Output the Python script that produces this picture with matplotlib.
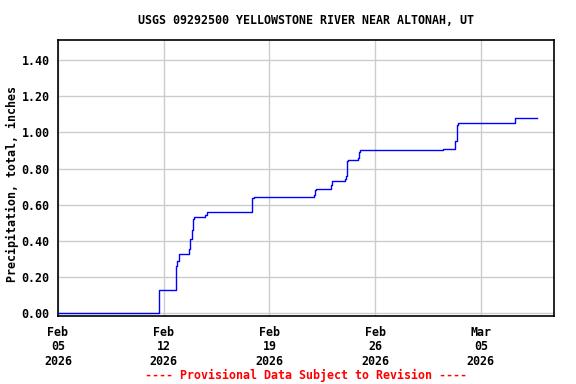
import matplotlib
matplotlib.use("Agg")
import matplotlib.pyplot as plt
import numpy as np
from datetime import datetime, timedelta
import matplotlib.dates as mdates

plt.rcParams['font.family'] = ['DejaVu Sans Mono']
plt.rcParams['font.weight'] = 'bold'

title = "USGS 09292500 YELLOWSTONE RIVER NEAR ALTONAH, UT"
ylabel = "Precipitation, total, inches"
footer = "---- Provisional Data Subject to Revision ----"

start = datetime(2026, 2, 5)
# days since Feb 05 2026 00:00 and cumulative precipitation (inches)
step_days = [0.0, 6.71, 7.81, 7.90, 7.99, 8.70, 8.76, 8.85, 8.92, 8.99,
             9.75, 9.85, 12.87, 13.00, 16.97, 17.04, 17.10, 18.10, 18.17,
             18.99, 19.05, 19.12, 19.16, 19.22, 19.89, 19.95, 20.02, 25.52,
             26.31, 26.40, 26.49, 30.28, 31.74]
step_values = [0.00, 0.13, 0.26, 0.29, 0.33, 0.355, 0.41, 0.46, 0.52, 0.53,
               0.545, 0.56, 0.64, 0.645, 0.655, 0.68, 0.69, 0.71, 0.73,
               0.74, 0.76, 0.78, 0.84, 0.85, 0.86, 0.89, 0.90, 0.91,
               0.95, 1.04, 1.05, 1.08, 1.08]

tick_dates = [datetime(2026, 2, 5), datetime(2026, 2, 12), datetime(2026, 2, 19),
              datetime(2026, 2, 26), datetime(2026, 3, 5)]
tick_labels = ["Feb\n05\n2026", "Feb\n12\n2026", "Feb\n19\n2026", "Feb\n26\n2026", "Mar\n05\n2026"]
y_ticks = [0.0, 0.2, 0.4, 0.6, 0.8, 1.0, 1.2, 1.4]
y_tick_labels = ["0.00", "0.20", "0.40", "0.60", "0.80", "1.00", "1.20", "1.40"]

fig = plt.figure(figsize=(5.76, 3.84), dpi=100)
ax = fig.add_axes([58/576, 1-316/384, (554-58)/576, (316-40)/384])

times = [start + timedelta(days=d) for d in step_days]
ax.plot(times, step_values, drawstyle='steps-post', color='#0000ff', lw=1.0, zorder=3)

ax.set_xlim(start, start + timedelta(days=32.85))
ax.set_ylim(-0.014, 1.51)
ax.set_xticks(tick_dates)
ax.set_xticklabels(tick_labels, fontsize=8.4, fontweight='bold', linespacing=1.15)
ax.set_yticks(y_ticks)
ax.set_yticklabels(y_tick_labels, fontsize=8.4, fontweight='bold')
ax.tick_params(length=0, pad=6)
ax.tick_params(axis='x', pad=7)
ax.grid(True, color='#cccccc', lw=1.0)
ax.set_axisbelow(True)
for s in ax.spines.values():
    s.set_linewidth(1.2)
    s.set_color('black')

fig.text(12/576, 1-184/384, ylabel, ha='center', va='center', rotation=90,
         fontsize=8.4, fontweight='bold')
fig.text(306/576, 1-20/384, title, ha='center', va='center', fontsize=8.4, fontweight='bold')
fig.text(306/576, 1-375/384, footer, ha='center', va='center', fontsize=8.4, fontweight='bold', color='#ff0000')

fig.savefig("out.png", dpi=100)
